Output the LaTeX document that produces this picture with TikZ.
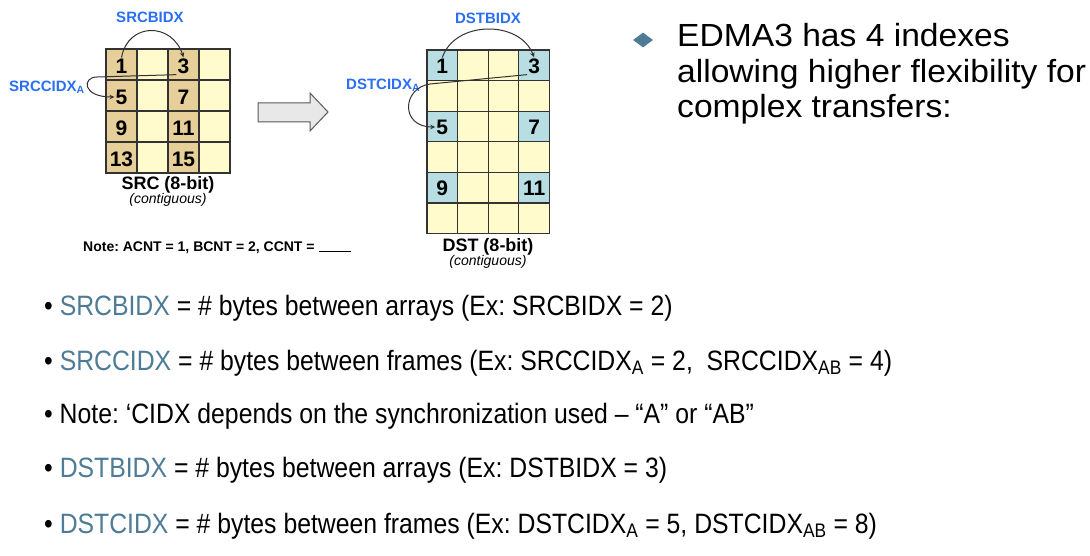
\documentclass[tikz,border=0pt]{standalone}
\usepackage{fontspec}
\setmainfont{Liberation Sans}
\newfontfamily\narrowfont[FakeStretch=0.885]{Liberation Sans}
\newfontfamily\wideFont[FakeStretch=1.05]{Liberation Sans}
\usetikzlibrary{arrows.meta}
\usetikzlibrary{shapes.geometric}
\definecolor{srcfill}{HTML}{E6CF98}
\definecolor{cellfill}{HTML}{FFFBCC}
\definecolor{dstfill}{HTML}{B8DDE2}
\definecolor{idxblue}{HTML}{2B6FF6}
\definecolor{steel}{HTML}{4E7B95}
\definecolor{flowgray}{HTML}{E8E8E8}
\frenchspacing

\begin{document}
\begin{tikzpicture}
  [x=1pt,y=-1pt,
  num/.style={font=\fontsize{21}{21}\selectfont\bfseries,inner sep=1pt},
  idx/.style={font=\fontsize{15}{15}\selectfont\bfseries,text=idxblue,inner sep=1pt},
  arraycap/.style={font=\fontsize{18}{18}\selectfont\bfseries,inner sep=0pt},
  arraysub/.style={font=\fontsize{14}{14}\selectfont\itshape,inner sep=0pt},
  cellline/.style={draw=black!80,line width=1.3pt},
  jump/.style={-{Stealth[length=5pt,width=4.5pt]},line width=1pt,black!80},
  head/.style={anchor=base west,inner sep=0pt,font=\wideFont\fontsize{32}{32}\selectfont},
  item/.style={anchor=base west,inner sep=0pt,font=\narrowfont\fontsize{28}{28}\selectfont}]
  \useasboundingbox (0,0) rectangle (1090,556);
  \fill[white] (0,0) rectangle (1090,556);

  % source array
  \fill[cellfill] (106,49) rectangle (230,173);
  \fill[srcfill] (106,49) rectangle (137,173) (168,49) rectangle (199,173);
  \draw[cellline] (106,49) rectangle (230,173);
  \draw[cellline] (137,49) -- (137,173) (168,49) -- (168,173) (199,49) -- (199,173);
  \draw[cellline] (106,80) -- (230,80) (106,111) -- (230,111) (106,142) -- (230,142);

  \node[num] (s1) at (121.5,66) {1};
  \node[num] (s3) at (183.5,66) {3};
  \node[num] (s5) at (121.5,97) {5};
  \node[num] (s7) at (183.5,97) {7};
  \node[num] (s9) at (121.5,128) {9};
  \node[num] (s11) at (183.5,128) {11};
  \node[num] (s13) at (121.5,159) {13};
  \node[num] (s15) at (183.5,159) {15};

  \node[arraycap] (srccap) at (168,185) {SRC (8-bit)};
  \node[arraysub] (srcsub) at (168,200) {(contiguous)};

  \node[idx] (sbidx) at (150,17) {SRCBIDX};
  \node[idx,anchor=west] (scidx) at (8,87) {SRCCIDX\textsubscript{A}};
  \draw[jump] (s1.north) .. controls (128,22) and (172,22) .. (s3.north);
  \draw[jump] (s3.south west) -- (97,77) .. controls (82,77) and (82,97) .. (s5.west);

  \node[anchor=base west,inner sep=0pt,font=\fontsize{14}{14}\selectfont\bfseries] (note) at (83,252)
    {Note: ACNT = 1, BCNT = 2, CCNT = \rule{32pt}{0.8pt}};

  % transfer arrow
  \draw[fill=flowgray,draw=black!65,line width=1pt] (258,103) -- (310,103) -- (310,93) -- (328,112)
    -- (310,131) -- (310,122) -- (258,122) -- cycle;

  % destination array
  \fill[cellfill] (427,50) rectangle (549.4,233.6);
  \fill[dstfill] (427,50) rectangle (457.6,80.6) (518.8,50) rectangle (549.4,80.6);
  \fill[dstfill] (427,111.2) rectangle (457.6,141.8) (518.8,111.2) rectangle (549.4,141.8);
  \fill[dstfill] (427,172.4) rectangle (457.6,203) (518.8,172.4) rectangle (549.4,203);
  \draw[cellline] (427,50) rectangle (549.4,233.6);
  \draw[cellline] (457.6,50) -- (457.6,233.6) (488.2,50) -- (488.2,233.6) (518.8,50) -- (518.8,233.6);
  \draw[cellline] (427,80.6) -- (549.4,80.6) (427,111.2) -- (549.4,111.2) (427,141.8) -- (549.4,141.8)
    (427,172.4) -- (549.4,172.4) (427,203) -- (549.4,203);

  \node[num] (d1) at (442.3,66) {1};
  \node[num] (d3) at (534.1,66) {3};
  \node[num] (d5) at (442.3,127) {5};
  \node[num] (d7) at (534.1,127) {7};
  \node[num] (d9) at (442.3,188) {9};
  \node[num] (d11) at (534.1,188) {11};

  \node[arraycap] (dstcap) at (488,247) {DST (8-bit)};
  \node[arraysub] (dstsub) at (488,262) {(contiguous)};

  \node[idx] (dbidx) at (488,18) {DSTBIDX};
  \node[idx,anchor=west] (dcidx) at (345,85) {DSTCIDX\textsubscript{A}};
  \draw[jump] (d1.north) .. controls (455,20) and (520,20) .. (d3.north);
  \draw[jump] (d3.south west) -- (430,84) .. controls (402,88) and (400,127) .. (d5.west);

  % right hand text
  \node[diamond,fill=steel,inner sep=0pt,minimum width=20pt,minimum height=15pt] (mark) at (643,40) {};
  \node[head] (head1) at (677,47) {EDMA3 has 4 indexes};
  \node[head] (head2) at (677,83) {allowing higher flexibility for};
  \node[head] (head3) at (677,118) {complex transfers:};

  % bullets
  \node[item] (b1) at (44,315) {\textbullet\ {\color{steel}SRCBIDX} = \# bytes between arrays (Ex: SRCBIDX = 2)};
  \node[item] (b2) at (44,370) {\textbullet\ {\color{steel}SRCCIDX} = \# bytes between frames (Ex: SRCCIDX\textsubscript{A} = 2,\ \ SRCCIDX\textsubscript{AB} = 4)};
  \node[item] (b3) at (44,423) {\textbullet\ Note: ‘CIDX depends on the synchronization used – “A” or “AB”};
  \node[item] (b4) at (44,477) {\textbullet\ {\color{steel}DSTBIDX} = \# bytes between arrays (Ex: DSTBIDX = 3)};
  \node[item] (b5) at (44,533) {\textbullet\ {\color{steel}DSTCIDX} = \# bytes between frames (Ex: DSTCIDX\textsubscript{A} = 5, DSTCIDX\textsubscript{AB} = 8)};
\end{tikzpicture}
\end{document}
